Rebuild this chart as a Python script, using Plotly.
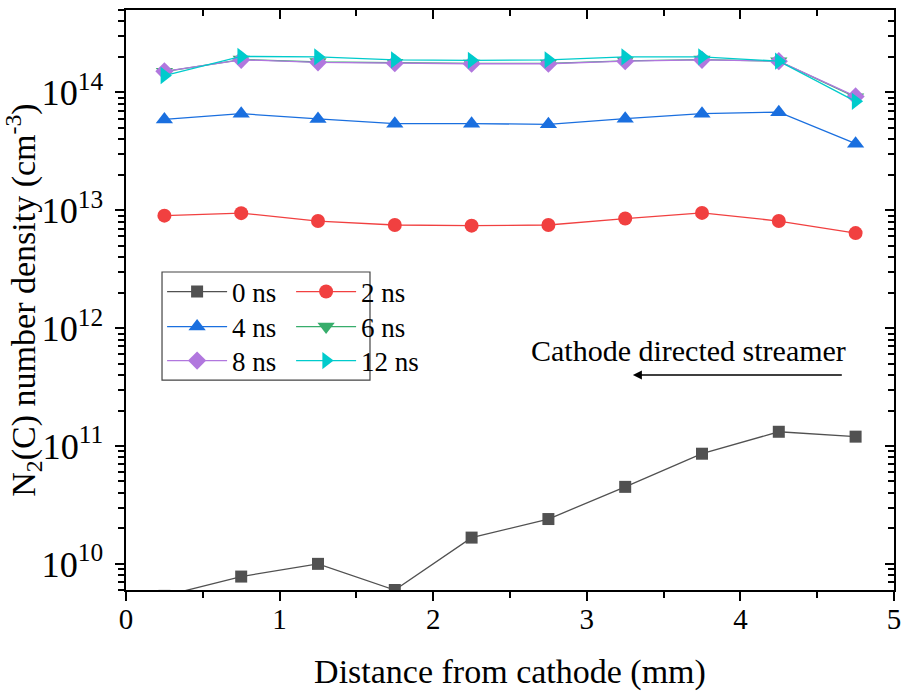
import math
import plotly.graph_objects as go

# ---------------- data ----------------
distance_mm = [0.25, 0.75, 1.25, 1.75, 2.25, 2.75, 3.25, 3.75, 4.25, 4.75]

n_0ns = [5.35e9, 7.8e9, 1.0e10, 6.0e9, 1.67e10, 2.4e10, 4.5e10, 8.6e10, 1.32e11, 1.2e11]
n_2ns = [9.0e12, 9.45e12, 8.1e12, 7.5e12, 7.4e12, 7.5e12, 8.5e12, 9.5e12, 8.1e12, 6.4e12]
n_4ns = [5.9e13, 6.6e13, 5.95e13, 5.43e13, 5.43e13, 5.36e13, 5.98e13, 6.6e13, 6.8e13, 3.67e13]
n_6ns = [1.5e14, 1.9e14, 1.81e14, 1.78e14, 1.76e14, 1.76e14, 1.85e14, 1.9e14, 1.84e14, 9.1e13]
n_8ns = [1.51e14, 1.89e14, 1.8e14, 1.77e14, 1.75e14, 1.75e14, 1.84e14, 1.89e14, 1.84e14, 9.25e13]
n_12ns = [1.39e14, 2.02e14, 2.0e14, 1.89e14, 1.87e14, 1.89e14, 2.0e14, 2.0e14, 1.84e14, 8.4e13]

series_names = ["0 ns", "2 ns", "4 ns", "6 ns", "8 ns", "12 ns"]
series_values = [n_0ns, n_2ns, n_4ns, n_6ns, n_8ns, n_12ns]
series_colors = ["#515151", "#F14040", "#1A6FDF", "#37AD6B", "#B177DE", "#00CBCC"]
series_symbols = ["square", "circle", "triangle-up", "triangle-down", "diamond", "triangle-right"]
series_sizes = [12, 14, 15, 15, 14, 15]
# legend rows: (0 ns, 2 ns), (4 ns, 6 ns), (8 ns, 12 ns)
series_legend = ["legend", "legend", "legend2", "legend2", "legend3", "legend3"]

x_range = [0, 5]
y_range = [math.log10(6e9), math.log10(5e14)]

FONT = "Liberation Serif"

fig = go.Figure()
for name, vals, col, sym, sz, lg in zip(series_names, series_values, series_colors,
                                         series_symbols, series_sizes, series_legend):
    fig.add_trace(go.Scatter(
        x=distance_mm, y=vals, name=name, mode="lines+markers",
        line=dict(color=col, width=1.3),
        marker=dict(symbol=sym, size=sz, color=col, line=dict(width=0)),
        legend=lg, cliponaxis=True,
    ))

axis_common = dict(showline=True, linecolor="black", linewidth=2, mirror=False, automargin=False,
                   showgrid=False, zeroline=False, tickcolor="black", tickwidth=2)

legend_common = dict(x=0.047, xanchor="left", yanchor="middle", orientation="h",
                     bgcolor="rgba(0,0,0,0)", font=dict(size=27, family=FONT),
                     itemwidth=60, entrywidth=54, entrywidthmode="pixels")

fig.update_layout(
    width=902, height=691,
    margin=dict(l=126, r=8, t=10, b=101, autoexpand=False),
    paper_bgcolor="white", plot_bgcolor="white",
    font=dict(family=FONT, color="black", size=30),
    xaxis=dict(range=x_range, dtick=1, tick0=0, ticks="outside", ticklen=9, ticklabelstandoff=-7,
               minor=dict(dtick=0.5, ticks="outside", ticklen=6, tickwidth=2, tickcolor="black"),
               tickfont=dict(size=29, family=FONT),
               title=dict(text="Distance from cathode (mm)", font=dict(size=34, family=FONT), standoff=25),
               **axis_common),
    yaxis=dict(type="log", range=y_range, dtick=1, ticks="outside", ticklen=9, ticklabelstandoff=6,
               exponentformat="power",
               minor=dict(ticks="outside", ticklen=6, tickwidth=2, tickcolor="black"),
               tickfont=dict(size=29, family=FONT),
               title=dict(text="N<sub>2</sub>(C) number density (cm<sup>-3</sup>)",
                          font=dict(size=34, family=FONT), standoff=0),
               **axis_common),
    xaxis2=dict(range=x_range, overlaying="x", side="top", matches="x", dtick=1, tick0=0,
                ticks="inside", ticklen=9, showticklabels=False,
                minor=dict(dtick=0.5, ticks="inside", ticklen=6, tickwidth=2, tickcolor="black"),
                **axis_common),
    yaxis2=dict(type="log", range=y_range, overlaying="y", side="right", dtick=1,
                ticks="inside", ticklen=9, showticklabels=False,
                minor=dict(ticks="inside", ticklen=6, tickwidth=2, tickcolor="black"),
                **axis_common),
    legend=dict(y=0.5138, **legend_common),
    legend2=dict(y=0.4534, **legend_common),
    legend3=dict(y=0.3948, **legend_common),
    showlegend=True,
)

# legend frame
fig.add_shape(type="rect", xref="paper", yref="paper", x0=0.0469, x1=0.3177, y0=0.362, y1=0.5483,
              line=dict(color="#444444", width=1.2), fillcolor="rgba(0,0,0,0)")

# invisible trace so the secondary (mirror) axes render
fig.add_trace(go.Scatter(x=[None], y=[None], xaxis="x2", yaxis="y2", showlegend=False, hoverinfo="skip"))

# annotation text + arrow
fig.add_annotation(x=3.665, y=11.81, xref="x", yref="y", text="Cathode directed streamer",
                   showarrow=False, font=dict(size=30, family=FONT, color="black"))
fig.add_annotation(x=3.30, y=11.602, ax=4.67, ay=11.602, xref="x", yref="y", axref="x", ayref="y",
                   text="", showarrow=True, arrowhead=2, arrowsize=1.2, arrowwidth=1.5, arrowcolor="black")

# remove the browser's default 8px body margin so the figure fills the window exactly
fig.write_html("out.html", config={"displayModeBar": False},
               post_script="document.body.style.margin='0';document.body.style.overflow='hidden';")
